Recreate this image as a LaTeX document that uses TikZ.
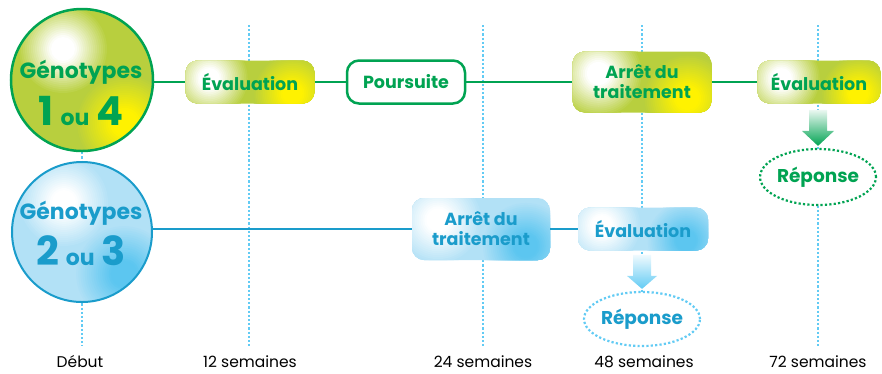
\documentclass[tikz,border=0pt]{standalone}
\usepackage{fontspec}
\setmainfont{Poppins}
\usetikzlibrary{calc,backgrounds,shapes.geometric}
\definecolor{gline}{HTML}{00A352}
\definecolor{gbase}{HTML}{B8CF3E}
\definecolor{gyel}{HTML}{FFF200}
\definecolor{bline}{HTML}{1A9CCB}
\definecolor{bbase}{HTML}{B2E1F6}
\definecolor{bdeep}{HTML}{5CC6F0}
\definecolor{dotc}{HTML}{62CBF4}
% soft radial blob drawn as concentric discs: #1 centre, #2 radius (pt), #3 inner colour, #4 outer colour
\newcommand\radblob[4]{%
  \foreach \i in {0,...,22}{%
    \pgfmathsetmacro\rr{#2*(1-\i/23)}%
    \pgfmathsetmacro\pp{min(100,\i*6)}%
    \fill[#3!\pp!#4] #1 circle (\rr pt);}}
\tikzset{
  gshade/.style n args={4}{path picture={
    \fill[gbase] (path picture bounding box.south west) rectangle (path picture bounding box.north east);
    \radblob{($(path picture bounding box.south east)+#3$)}{#4}{gyel}{gbase}
    \radblob{($(path picture bounding box.north west)+#1$)}{#2}{white}{gbase}
  }},
  bshade/.style n args={4}{path picture={
    \fill[bbase] (path picture bounding box.south west) rectangle (path picture bounding box.north east);
    \radblob{($(path picture bounding box.south east)+#3$)}{#4}{bdeep}{bbase}
    \radblob{($(path picture bounding box.north west)+#1$)}{#2}{white}{bbase}
  }},
  boxfont/.style={font=\bfseries\fontsize{17.5}{20}\selectfont, align=center, inner sep=0pt},
  gbox/.style={boxfont, rounded corners=12pt, text=gline},
  bbox/.style={boxfont, rounded corners=12pt, text=bline},
  gcirc/.style={circle, minimum size=142pt, inner sep=0pt, draw=gline, line width=2.5pt},
  bcirc/.style={circle, minimum size=140pt, inner sep=0pt, draw=bline, line width=2pt},
  bigtxt/.style={font=\bfseries\fontsize{22}{24}\selectfont, inner sep=0pt, anchor=base},
  gconn/.style={draw=gline, line width=2.6pt},
  bconn/.style={draw=bline, line width=2.4pt},
  dotline/.style={draw=dotc, line width=2.4pt, dash pattern=on 2.2pt off 2pt},
  resp/.style={ellipse, fill=white, inner sep=0pt, line width=2.2pt, dash pattern=on 2.2pt off 2.2pt, font=\bfseries\fontsize{18.5}{20}\selectfont},
  tlabel/.style={font=\fontsize{15.5}{18}\selectfont, inner sep=0pt, anchor=base},
}
\begin{document}
\begin{tikzpicture}[x=1pt,y=-1pt]
\useasboundingbox (0,0) rectangle (882,373);
% circles
\node[gcirc, gshade={(52,40)}{46}{(-28,-28)}{50}] (gA) at (82,80) {};
\node[bcirc, bshade={(52,40)}{46}{(-28,-28)}{50}] (bA) at (82,232) {};
\node[bigtxt, text=gline] (gAt) at (81,78) {Génotypes};
\node[bigtxt, text=gline] (gAn) at (81,125) {\fontsize{40}{40}\selectfont 1\,{\fontsize{22}{22}\selectfont ou}\,4};
\node[bigtxt, text=bline] (bAt) at (81,219) {Génotypes};
\node[bigtxt, text=bline] (bAn) at (81,265) {\fontsize{40}{40}\selectfont 2\,{\fontsize{22}{22}\selectfont ou}\,3};
% green row
\node[gbox, minimum width=129pt, minimum height=43pt, gshade={(24,18)}{40}{(-22,-10)}{40}] (gE1) at (250,82) {Évaluation};
\node[gbox, minimum width=118pt, minimum height=43pt, fill=white, draw=gline, line width=2.5pt] (gP) at (406,82) {Poursuite};
\node[gbox, minimum width=139pt, minimum height=61pt, gshade={(26,22)}{45}{(-24,-14)}{45}] (gS) at (642,82) {Arrêt du\\traitement};
\node[gbox, minimum width=123pt, minimum height=43pt, gshade={(24,18)}{40}{(-22,-10)}{38}] (gE2) at (819,82) {Évaluation};
\node[resp, draw=gline, text=gline, minimum width=101pt, minimum height=56pt] (gR) at (818,177) {Réponse};
% blue row
\node[bbox, minimum width=138pt, minimum height=62pt, bshade={(26,22)}{45}{(-24,-14)}{45}] (bS) at (481,229) {Arrêt du\\traitement};
\node[bbox, minimum width=130pt, minimum height=43pt, bshade={(24,18)}{40}{(-22,-10)}{40}] (bE) at (643,229) {Évaluation};
\node[resp, draw=dotc, text=bline, minimum width=100pt, minimum height=54pt] (bR) at (642,319) {Réponse};
% time labels
\node[tlabel] (l0) at (80,367) {Début};
\node[tlabel] (l12) at (250,367) {12 semaines};
\node[tlabel] (l24) at (483,367) {24 semaines};
\node[tlabel] (l48) at (644,367) {48 semaines};
\node[tlabel] (l72) at (818,367) {72 semaines};
\coordinate (t12) at (249,25); \coordinate (b12) at (249,346);
\coordinate (t24) at (483,25); \coordinate (b24) at (483,346);
\coordinate (t48) at (642,25); \coordinate (b48) at (642,346);
\coordinate (t72) at (818,25); \coordinate (b72) at (818,346);
\coordinate (b0) at (82,346);
\begin{scope}[on background layer]
  \draw[dotline] (gA.south) -- (b0);
  \draw[dotline] (t12) -- (b12);
  \draw[dotline] (t24) -- (b24);
  \draw[dotline] (t48) -- (b48);
  \draw[dotline] (t72) -- (b72);
\end{scope}
% connectors
\draw[gconn] (gA.east |- gE1.west) -- (gE1.west);
\draw[gconn] (gE1.east) -- (gP.west);
\draw[gconn] (gP.east) -- (gS.west);
\draw[gconn] (gS.east) -- (gE2.west);
\draw[bconn] (bA.east |- bS.west) -- (bS.west);
\draw[bconn] (bS.east) -- (bE.west);
% block arrows
\shade[top color=gline!8, middle color=gline, bottom color=gline]
  ($(gR.north)+(0,-2)$) -- ++(16,-15) -- ++(-7,0) -- ++(0,-21) -- ++(-18,0) -- ++(0,21) -- ++(-7,0) -- cycle;
\shade[top color=dotc!10, middle color=dotc, bottom color=dotc]
  ($(bR.north)+(0,-2)$) -- ++(15,-13) -- ++(-6,0) -- ++(0,-21) -- ++(-18,0) -- ++(0,21) -- ++(-6,0) -- cycle;
\end{tikzpicture}
\end{document}
